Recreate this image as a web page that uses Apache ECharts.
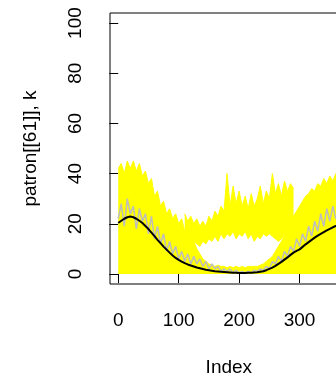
<!DOCTYPE html>
<html><head><meta charset="utf-8">
<script src="https://cdn.jsdelivr.net/npm/echarts@6/dist/echarts.min.js"></script>
<style>html,body{margin:0;padding:0;background:#fff}#c{width:336px;height:379px}</style>
</head><body><div id="c"></div>
<script>
const days = [0,5,10,15,20,25,30,35,40,45,50,55,60,65,70,75,80,85,90,95,100,105,110,115,120,125,130,135,140,145,150,155,160,165,170,175,180,185,190,195,200,205,210,215,220,225,230,235,240,245,250,255,260,265,270,275,280,285,290,295,300,305,310,315,320,325,330,335,340,345,350,355,360,365];
const yellowEnvelope = [42,44,40,45,42,45,41,44,39,41,36,38,31,33,27,29,24,26,22,24,20,22,17,19,14,13,10,8,6,5,4,3.5,3,3.5,3,3,2.5,3,2.5,3,2.5,3,2.5,3,3,3,3,3.5,4,5,6,7,9,11,13,15,18,20,23,25,27,29,31,32,34,33,36,35,38,36,39,37,40,38];
const midDays = [110,115,120,125,130,135,140,145,150,155,160,165,170,175,180,185,190,195,200,205,210,215,220,225,230,235,240,245,250,255,260,265,270,275,280,285,290];
const midLow = [10,12,11,13,12,11,13,12,14,13,15,13,16,14,16,15,17,14,16,15,17,14,16,13,15,14,16,15,16,15,14,13,14,15,17,19,21];
const midHigh = [24,21,23,20,22,19,21,19,23,21,25,23,27,25,40,27,35,28,33,27,31,26,32,27,30,35,28,33,30,40,32,36,31,37,33,36,34];
const grayYear = [22,28,19,30,24,27,18,26,21,24,16,23,14,19,12,16,9,13,8,11,6,9,5,8,4,7,4,6,3,5,2,4,2,3,1,2,1,2,0.5,1.5,0.5,1,0.5,1,0.5,1.5,1,2,1.5,3,2,5,4,7,5,9,7,11,9,14,11,16,13,19,15,21,17,24,19,26,21,27,22,25];
const meanLine = [20.3,21.2,22,22.6,22.9,22.6,22,21.2,20.3,19.1,17.9,16.5,15.1,13.6,12.3,10.9,9.7,8.5,7.4,6.4,5.6,4.9,4.3,3.8,3.4,3.0,2.6,2.3,2.0,1.7,1.5,1.3,1.1,1.0,0.9,0.8,0.7,0.6,0.5,0.5,0.4,0.4,0.4,0.5,0.5,0.6,0.7,0.9,1.1,1.5,2.0,2.5,3.2,4.0,4.8,5.7,6.6,7.6,8.5,9.2,9.8,10.8,11.8,12.7,13.6,14.5,15.3,16.0,16.7,17.4,18.0,18.6,19.1,19.6];
const xTicks = [0,100,200,300];
const yTicks = [0,20,40,60,80,100];

const FONT = '"Liberation Sans", Arial, Helvetica, sans-serif';
const pair = (xs, ys) => xs.map((x, i) => [x, ys[i]]);
const YEL = '#FFFF00';

const chart = echarts.init(document.getElementById('c'), null, {renderer: 'canvas'});
chart.setOption({
  animation: false,
  backgroundColor: '#fff',
  grid: {left: 110, top: 13, width: 237.7, height: 271, show: true, borderColor: '#000', borderWidth: 1, backgroundColor: 'transparent', outerBoundsMode: 'none', containLabel: false},
  xAxis: {
    type: 'value', min: -13.6, max: 379.6,
    axisLine: {show: false},
    axisTick: {show: true, customValues: xTicks, length: 9, lineStyle: {color: '#000', width: 1}},
    axisLabel: {customValues: xTicks, fontSize: 19, margin: 27, color: '#000', fontFamily: FONT},
    splitLine: {show: false},
    name: 'Index', nameLocation: 'middle', nameGap: 74,
    nameTextStyle: {fontSize: 19, color: '#000', fontFamily: FONT}
  },
  yAxis: {
    type: 'value', min: -4, max: 104,
    axisLine: {show: false},
    axisTick: {show: true, customValues: yTicks, length: 9, lineStyle: {color: '#000', width: 1}},
    axisLabel: {customValues: yTicks, fontSize: 19, margin: 25, rotate: 90, color: '#000', fontFamily: FONT},
    splitLine: {show: false},
    name: 'patron[[61]], k', nameLocation: 'middle', nameGap: 70, nameRotate: 90,
    nameTextStyle: {fontSize: 19, color: '#000', fontFamily: FONT}
  },
  series: [
    {type: 'line', name: 'midHigh', data: pair(midDays, midHigh), symbol: 'none', lineStyle: {color: YEL, width: 1}, areaStyle: {color: YEL, opacity: 1}},
    {type: 'line', name: 'midLow', data: pair(midDays, midLow), symbol: 'none', lineStyle: {color: YEL, width: 1}, areaStyle: {color: '#fff', opacity: 1}},
    {type: 'line', name: 'envelope', data: pair(days, yellowEnvelope), symbol: 'none', lineStyle: {color: YEL, width: 1}, areaStyle: {color: YEL, opacity: 1}},
    {type: 'line', name: 'gray', data: pair(days, grayYear), symbol: 'none', lineStyle: {color: '#BEBEBE', width: 1.5}},
    {type: 'line', name: 'mean', data: pair(days, meanLine), symbol: 'none', lineStyle: {color: '#000', width: 2}}
  ]
});
</script></body></html>
